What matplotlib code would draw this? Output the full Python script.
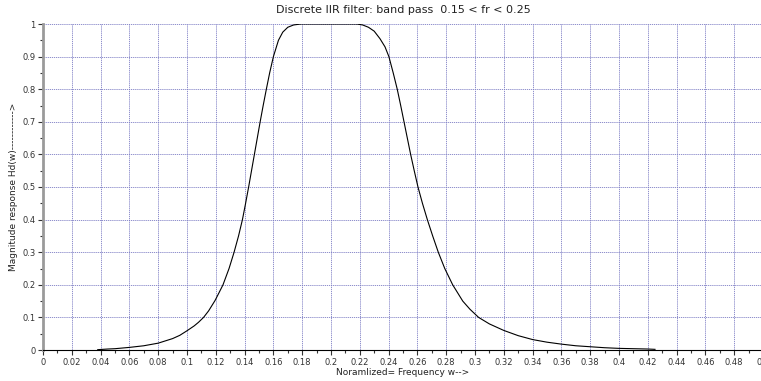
import numpy as np
import matplotlib.pyplot as plt
from matplotlib.ticker import MultipleLocator

# frequency response (normalised freq, magnitude)
freq = [0.038, 0.045, 0.05, 0.06, 0.07, 0.08, 0.09, 0.095, 0.10, 0.105, 0.108,
        0.1115, 0.115, 0.1195, 0.1225, 0.125, 0.1292, 0.1327, 0.1358, 0.1385,
        0.1407, 0.1428, 0.1448, 0.1468, 0.1488, 0.1508, 0.1529, 0.1551, 0.1574,
        0.160, 0.1635, 0.1665, 0.170, 0.174, 0.179,
        0.218, 0.222, 0.226, 0.230, 0.234, 0.2375, 0.2402, 0.2432, 0.246,
        0.2484, 0.2507, 0.253, 0.2553, 0.2578, 0.2604, 0.2635, 0.2669,
        0.2706, 0.2745, 0.279, 0.2845, 0.2915, 0.2965, 0.3025, 0.31,
        0.32, 0.33, 0.34, 0.35, 0.36, 0.37, 0.38, 0.39, 0.40, 0.41, 0.42, 0.425]
mag = [0.001, 0.003, 0.004, 0.008, 0.013, 0.021, 0.035, 0.045, 0.059, 0.074, 0.085,
       0.10, 0.12, 0.152, 0.178, 0.20, 0.25, 0.30, 0.35, 0.40,
       0.45, 0.50, 0.55, 0.60, 0.65, 0.70, 0.75, 0.80, 0.85,
       0.90, 0.95, 0.975, 0.99, 0.997, 1.0,
       1.0, 0.997, 0.99, 0.978, 0.955, 0.93, 0.90, 0.85, 0.80,
       0.75, 0.70, 0.65, 0.60, 0.55, 0.50, 0.45, 0.40,
       0.35, 0.30, 0.25, 0.20, 0.15, 0.125, 0.10, 0.080,
       0.060, 0.044, 0.032, 0.024, 0.018, 0.013, 0.010, 0.007, 0.005, 0.004, 0.003, 0.002]

xticks = np.round(np.arange(0, 0.501, 0.02), 2)
xticklabels = ['%g' % t for t in xticks]
yticks = np.round(np.arange(0, 1.01, 0.1), 1)
yticklabels = ['%g' % t for t in yticks]

fig = plt.figure(figsize=(7.61, 3.81), dpi=100)
ax = fig.add_axes([43 / 761, 31 / 381, 720 / 761, 326 / 381])

ax.plot(freq, mag, color='black', lw=0.8)

ax.set_xlim(0, 0.5)
ax.set_ylim(0, 1)
ax.set_xticks(xticks)
ax.set_xticklabels(xticklabels)
ax.set_yticks(yticks)
ax.set_yticklabels(yticklabels)
ax.xaxis.set_minor_locator(MultipleLocator(0.01))
ax.yaxis.set_minor_locator(MultipleLocator(0.05))
ax.tick_params(axis='both', which='major', labelsize=6, length=3.5, width=0.8, pad=2, colors='#333333')
ax.tick_params(axis='both', which='minor', length=2, width=0.8, colors='#333333')

ax.grid(True, which='major', color='#7c7cc4', ls=(0, (1.5, 1.0)), lw=0.6)
ax.set_axisbelow(True)

ax.spines['top'].set_visible(False)
ax.spines['right'].set_visible(False)
ax.spines['left'].set_color('#9a9a9a')
ax.spines['left'].set_linewidth(2)
ax.spines['bottom'].set_color('black')
ax.spines['bottom'].set_linewidth(0.8)

ax.set_title('Discrete IIR filter: band pass  0.15 < fr < 0.25', fontsize=8, pad=8, color='#222222')
ax.set_xlabel('Noramlized= Frequency w-->', fontsize=6.5, labelpad=1, color='#222222')
ax.set_ylabel('Magnitude response Hd(w)------------>', fontsize=6.5, labelpad=3, color='#222222')

fig.savefig('out.png', dpi=100)
